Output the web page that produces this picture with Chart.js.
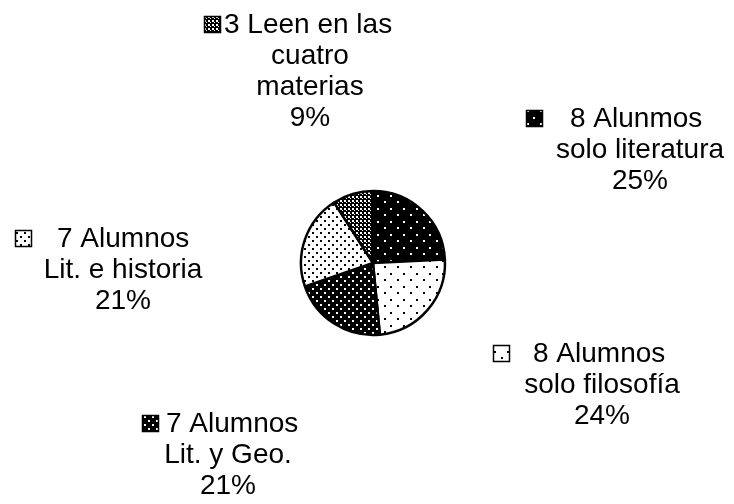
<!DOCTYPE html>
<html lang="es">
<head>
  <meta charset="UTF-8">
  <title>Alumnos que leen</title>
  <script src="https://cdn.jsdelivr.net/npm/chart.js@4.4.1/dist/chart.umd.min.js"></script>
  <style>
    html, body { margin: 0; padding: 0; background: #fff; }
    #wrap { width: 734px; height: 504px; }
  </style>
</head>
<body>
<div id="wrap"><canvas id="pie" width="734" height="504"></canvas></div>
<script>
// ---- data ----
const categoryLines = [
  ['8 Alunmos', 'solo literatura'],
  ['8 Alumnos', 'solo filosofía'],
  ['7 Alumnos', 'Lit. y Geo.'],
  ['7 Alumnos', 'Lit. e historia'],
  ['3 Leen en las', 'cuatro', 'materias']
];
const studentCounts = [8, 8, 7, 7, 3];
const percentLabels = ['25%', '24%', '21%', '21%', '9%'];

// where each hand-placed label sits (icon left, first-line text left, centre of other lines, first baseline)
const labelLayout = [
  { iconX: 526, textX: 570, centerX: 640, baseY: 127 },
  { iconX: 493, textX: 533, centerX: 602, baseY: 362 },
  { iconX: 142, textX: 166, centerX: 228, baseY: 432 },
  { iconX: 15,  textX: 57,  centerX: 123, baseY: 247 },
  { iconX: 204, textX: 224, centerX: 310, baseY: 33 }
];

// ---- dotted fills like the old printout ----
const makePattern = (size, bg, fg, dots) => {
  const c = document.createElement('canvas');
  c.width = size; c.height = size;
  const g = c.getContext('2d');
  g.fillStyle = bg;
  g.fillRect(0, 0, size, size);
  g.fillStyle = fg;
  dots.forEach(d => g.fillRect(d[0], d[1], d[2], d[3]));
  return g.createPattern(c, 'repeat');
};

const fills = [
  makePattern(13, '#000', '#fff', [[0, 0, 2, 2], [7, 6, 2, 2]]),
  makePattern(13, '#fff', '#000', [[0, 0, 2, 2], [7, 6, 2, 2]]),
  makePattern(8, '#000', '#fff', [[0, 0, 2, 2], [4, 4, 2, 2]]),
  makePattern(8, '#fff', '#000', [[0, 0, 2, 2], [4, 4, 2, 2]]),
  makePattern(4, '#000', '#fff', [[0, 0, 2, 2], [2, 2, 1, 1]])
];

const FONT = '28px "Liberation Sans", Arial, sans-serif';
const LINE_H = 31;
const ICON = 17;

// draws the legend-key labels around the pie
const labelPlugin = {
  id: 'sliceLabels',
  afterDatasetsDraw(chart) {
    const ctx = chart.ctx;
    ctx.save();
    ctx.font = FONT;
    ctx.textBaseline = 'alphabetic';
    categoryLines.forEach((lines, i) => {
      const lay = labelLayout[i];
      // key square
      ctx.fillStyle = fills[i];
      ctx.fillRect(lay.iconX, lay.baseY - ICON, ICON, ICON);
      ctx.strokeStyle = '#000';
      ctx.lineWidth = 1.5;
      ctx.strokeRect(lay.iconX + 0.5, lay.baseY - ICON + 0.5, ICON - 1, ICON - 1);
      ctx.fillStyle = '#000';
      ctx.textAlign = 'left';
      ctx.fillText(lines[0], lay.textX, lay.baseY);
      ctx.textAlign = 'center';
      const rest = lines.slice(1).concat([percentLabels[i]]);
      rest.forEach((txt, k) => {
        ctx.fillText(txt, lay.centerX, lay.baseY + LINE_H * (k + 1));
      });
    });
    ctx.restore();
  }
};

new Chart(document.getElementById('pie'), {
  type: 'pie',
  data: {
    labels: categoryLines.map(l => l.join(' ')),
    datasets: [{
      data: studentCounts,
      backgroundColor: fills,
      borderColor: '#000',
      borderWidth: 2.5,
      borderAlign: 'center'
    }]
  },
  options: {
    responsive: false,
    animation: false,
    radius: 72,
    layout: { padding: { left: 12, right: 0, top: 22, bottom: 0 } },
    plugins: {
      legend: { display: false },
      tooltip: { enabled: false }
    }
  },
  plugins: [labelPlugin]
});
</script>
</body>
</html>
